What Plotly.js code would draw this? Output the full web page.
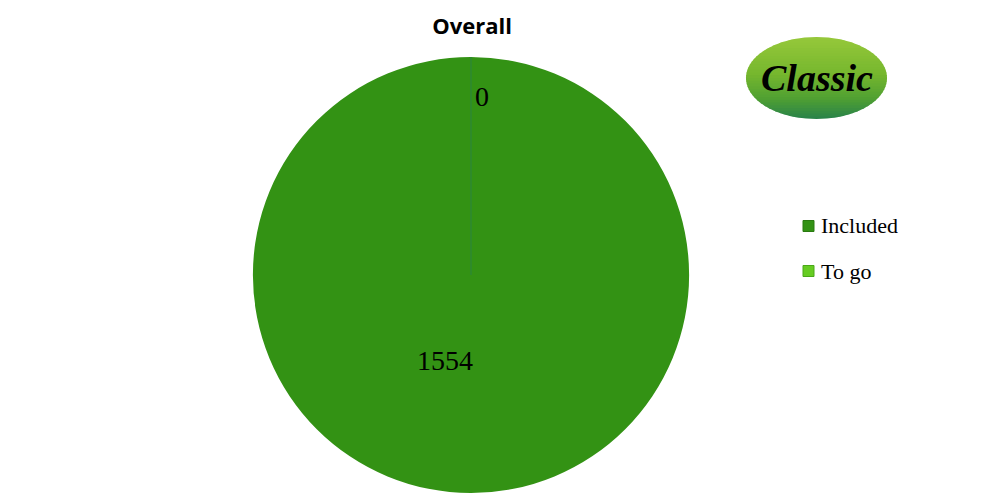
<!DOCTYPE html>
<html><head><meta charset="utf-8">
<script src="https://cdn.plot.ly/plotly-3.0.1.min.js"></script>
<style>html,body{margin:0;padding:0;background:#fff}#chart{width:1000px;height:500px}</style>
</head><body><div id="chart"></div>
<script>
const labels = ['Included', 'To go'];
const values = [1554, 0];
const colors = ['#339214', '#66cc22'];
const swatchLine = ['#2a7a10', '#4aa818'];
const titleText = 'Overall';
const logoText = 'Classic';

const serif = 'Liberation Serif, Times New Roman, serif';

const trace = {
  type: 'pie',
  labels: labels,
  values: values,
  sort: false,
  direction: 'clockwise',
  rotation: 0,
  textinfo: 'none',
  hoverinfo: 'label+value',
  marker: {colors: colors, line: {color: '#2c8a2e', width: 0}},
  domain: {x: [0.253, 0.689], y: [0.014, 0.886]},
  showlegend: false
};

// value labels
const labelPos = [[0.445, 1 - 360/500], [0.482, 1 - 97/500]];
const annotations = values.map((v, i) => ({
  x: labelPos[i][0], y: labelPos[i][1], xref: 'paper', yref: 'paper',
  xanchor: 'center', yanchor: 'middle', text: String(v), showarrow: false,
  font: {family: serif, size: 28, color: '#000'}
}));

const shapes = [
  {type: 'line', xref: 'paper', yref: 'paper', x0: 0.471, x1: 0.471, y0: 1 - 275/500, y1: 1 - 57/500,
   line: {color: '#2a8440', width: 1}}
];

// logo ellipse with vertical gradient, drawn as horizontal strips (pixel geometry -> paper)
(function () {
  const cx = 816.5, cy = 78, rx = 70.5, ry = 41;
  const stops = [[0, [150, 200, 58]], [0.45, [118, 183, 46]], [0.75, [80, 160, 50]], [1, [40, 130, 74]]];
  function col(t) {
    for (let k = 1; k < stops.length; k++) {
      if (t <= stops[k][0]) {
        const a = stops[k-1], b = stops[k], f = (t - a[0]) / (b[0] - a[0]);
        const c = a[1].map((v, j) => Math.round(v + (b[1][j] - v) * f));
        return 'rgb(' + c.join(',') + ')';
      }
    }
    return 'rgb(' + stops[stops.length-1][1].join(',') + ')';
  }
  const N = 30, top = cy - ry, h = 2 * ry;
  const P = (x, y) => (x / 1000).toFixed(5) + ',' + (1 - y / 500).toFixed(5);
  for (let s = 0; s < N; s++) {
    const ya = top + h * s / N, yb = Math.min(top + h * (s + 1) / N + 0.8, cy + ry);
    const pts = [];
    const steps = 6;
    for (let k = 0; k <= steps; k++) {
      const y = ya + (yb - ya) * k / steps;
      const d = Math.sqrt(Math.max(0, 1 - Math.pow((y - cy) / ry, 2)));
      pts.push([cx - rx * d, y]);
    }
    for (let k = steps; k >= 0; k--) {
      const y = ya + (yb - ya) * k / steps;
      const d = Math.sqrt(Math.max(0, 1 - Math.pow((y - cy) / ry, 2)));
      pts.push([cx + rx * d, y]);
    }
    const path = 'M' + pts.map(p => P(p[0], p[1])).join('L') + 'Z';
    shapes.push({type: 'path', xref: 'paper', yref: 'paper', path: path,
      fillcolor: col((s + 0.5) / N), line: {width: 0}});
  }
})();

// logo text
annotations.push({x: 0.817, y: 1 - 78/500, xref: 'paper', yref: 'paper', xanchor: 'center', yanchor: 'middle',
  text: '<b><i>' + logoText + '</i></b>', showarrow: false,
  font: {family: serif, size: 38, color: '#000'}});

// legend (swatch + text) built from labels/colors
const legendTop = 226, legendStep = 45;
labels.forEach((lab, i) => {
  const yc = legendTop + i * legendStep;
  shapes.push({type: 'rect', xref: 'paper', yref: 'paper',
    x0: 0.803, x1: 0.814, y0: 1 - (yc + 5.5)/500, y1: 1 - (yc - 5.5)/500,
    fillcolor: colors[i], line: {color: swatchLine[i], width: 1}});
  annotations.push({x: 0.819, y: 1 - yc/500, xref: 'paper', yref: 'paper', xanchor: 'left', yanchor: 'middle',
    text: lab, showarrow: false, font: {family: serif, size: 22, color: '#000'}});
});

const layout = {
  width: 1000, height: 500,
  margin: {l: 0, r: 0, t: 0, b: 0},
  paper_bgcolor: '#fff', plot_bgcolor: '#fff',
  title: {text: '<b>' + titleText + '</b>', x: 0.472, xanchor: 'center', y: 1 - 26/500, yanchor: 'middle',
          font: {family: 'Open Sans, Liberation Sans, sans-serif', size: 22, color: '#000'}},
  showlegend: false,
  annotations: annotations,
  shapes: shapes
};

Plotly.newPlot('chart', [trace], layout, {displayModeBar: false, staticPlot: true});
</script></body></html>
